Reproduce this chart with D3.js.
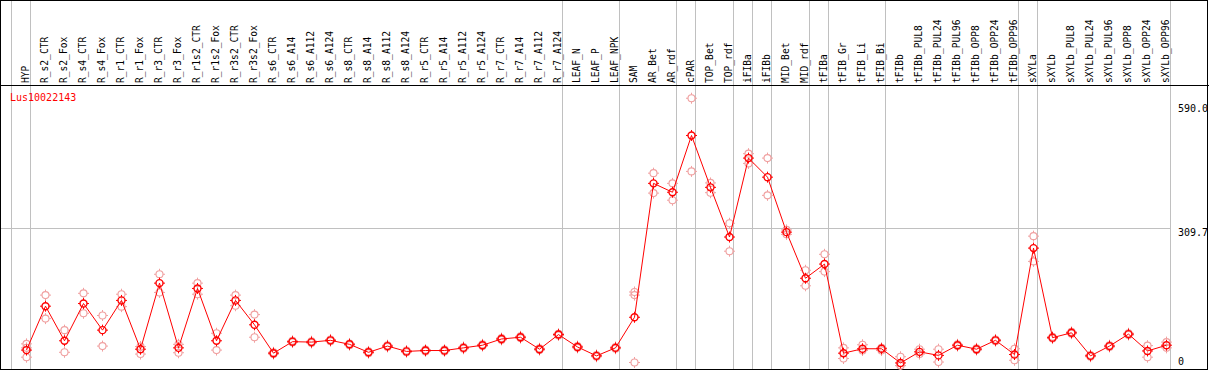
<!DOCTYPE html>
<html>
<head>
<script src="https://cdn.jsdelivr.net/npm/d3@7"></script>
<style>
body {margin: 0; background: #fff;}
text {font-family: "DejaVu Sans Mono", monospace; font-size: 10px;}
text.lab {font-size: 9.6px;}
</style>
</head>
<body>
<svg id="chart" width="1209" height="370"></svg>
<script>
var samples = ["HYP","R_s2_CTR","R_s2_Fox","R_s4_CTR","R_s4_Fox","R_r1_CTR","R_r1_Fox","R_r3_CTR","R_r3_Fox",
  "R_r1s2_CTR","R_r1s2_Fox","R_r3s2_CTR","R_r3s2_Fox","R_s6_CTR","R_s6_A14","R_s6_A112","R_s6_A124",
  "R_s8_CTR","R_s8_A14","R_s8_A112","R_s8_A124","R_r5_CTR","R_r5_A14","R_r5_A112","R_r5_A124",
  "R_r7_CTR","R_r7_A14","R_r7_A112","R_r7_A124","LEAF_N","LEAF_P","LEAF_NPK","SAM","AR_Bet","AR_rdf",
  "cPAR","TOP_Bet","TOP_rdf","iFIBa","iFIBb","MID_Bet","MID_rdf","tFIBa","tFIB_Gr","tFIB_Li","tFIB_Bi",
  "tFIBb","tFIBb_PUL8","tFIBb_PUL24","tFIBb_PUL96","tFIBb_OPP8","tFIBb_OPP24","tFIBb_OPP96",
  "sXYLa","sXYLb","sXYLb_PUL8","sXYLb_PUL24","sXYLb_PUL96","sXYLb_OPP8","sXYLb_OPP24","sXYLb_OPP96"];

// mean expression
var means = [35,134,56,140,80,147,37,186,40,174,56,147,92,28,54,53,57,48,30,44,32,34,34,40,46,60,64,37,70,42,22,40,
  109,411,391,519,402,290,468,425,301,197,229,28,38,38,6,31,23,46,37,57,25,265,63,74,22,44,71,33,46];
// replicates
var rep1 = [49,159,80,163,113,161,43,206,48,186,73,159,115,30,56,55,59,50,32,46,34,36,36,42,48,62,66,39,72,44,24,42,
  166,434,411,603,412,321,478,468,306,215,251,40,47,40,20,37,37,48,39,59,38,292,65,76,24,46,73,45,53];
var rep2 = [19,106,30,118,44,133,26,165,29,161,35,135,64,26,52,51,55,46,28,42,30,32,32,38,44,58,62,35,68,40,20,38,
  7,389,373,438,390,258,456,384,296,180,212,16,34,34,0,26,8,44,35,55,12,235,61,72,20,42,69,19,40];
var rep3 = [40,null,null,null,null,null,null,null,null,null,null,null,null,null,null,null,null,null,null,null,null,null,null,null,null,null,null,null,null,null,null,null,
  159,null,null,null,null,null,null,null,null,null,null,null,null,null,0,null,null,null,null,null,null,null,null,null,null,null,null,null,null];

var groupStarts = ["HYP","R_s2_CTR","LEAF_N","SAM","cPAR","TOP_Bet","iFIBa","iFIBb","MID_Bet","tFIBa","tFIB_Gr","tFIBb","sXYLa","sXYLb"];
var tickValues = [590.0, 309.7, 0];
var geneName = "Lus10022143";

var W = 1209, H = 370;
var svg = d3.select("#chart");

var x = d3.scaleBand().domain(samples).range([11, 1170]);
var y = d3.scaleLinear().domain([0, 590]).range([365.6, 104]);
var px = function(d){ return x(d) + 15.5; };

// grid
svg.append("line").attr("x1", 0).attr("x2", x.range()[1]).attr("y1", Math.round(y(309.7)) + 0.5).attr("y2", Math.round(y(309.7)) + 0.5)
  .attr("stroke", "#c0c0c0").attr("shape-rendering", "crispEdges");
svg.selectAll("line.sep").data(groupStarts.map(x).concat([x.range()[1]]))
  .enter().append("line").attr("class", "sep")
  .attr("x1", function(d){ return Math.round(d) + 0.5; }).attr("x2", function(d){ return Math.round(d) + 0.5; })
  .attr("y1", 0).attr("y2", H)
  .attr("stroke", "#c0c0c0").attr("shape-rendering", "crispEdges");

// frame
svg.append("rect").attr("x", 0.5).attr("y", 0.5).attr("width", W - 2).attr("height", H - 1.5)
  .attr("fill", "none").attr("stroke", "#000").attr("shape-rendering", "crispEdges");
svg.append("line").attr("x1", 0).attr("x2", W).attr("y1", 85.5).attr("y2", 85.5)
  .attr("stroke", "#000").attr("shape-rendering", "crispEdges");

// sample labels
svg.selectAll("text.lab").data(samples).enter().append("text").attr("class", "lab")
  .attr("transform", function(d){ return "translate(" + (px(d) + 2) + ",83) rotate(-90)"; })
  .text(function(d){ return d; });

// value labels on right
svg.selectAll("text.tick").data(tickValues).enter().append("text").attr("class", "tick")
  .attr("x", 1178)
  .attr("y", function(d){ return d === 0 ? y(d) - 1 : y(d) + 8; })
  .text(function(d){ return d === 0 ? "0" : d.toFixed(1); });

svg.append("text").attr("x", 10).attr("y", 101).attr("fill", "#ff0000").text(geneName);

function marker(g, color, sw){
  g.append("circle").attr("r", 3.5).attr("fill", "none").attr("stroke", color).attr("stroke-width", sw);
  g.append("path").attr("d", "M-5.5,0H-3.5M3.5,0H5.5M0,-5.5V-3.5M0,3.5V5.5")
    .attr("stroke", color).attr("stroke-width", 1);
}

// replicate points
[rep1, rep2, rep3].forEach(function(rep){
  svg.append("g").selectAll("g").data(samples.filter(function(d, i){ return rep[i] !== null; }))
    .enter().append("g")
    .attr("transform", function(d){ return "translate(" + px(d) + "," + y(rep[samples.indexOf(d)]) + ")"; })
    .each(function(){ marker(d3.select(this), "#f0a0a0", 1.1); });
});

// mean line
var line = d3.line().x(function(d, i){ return px(samples[i]); }).y(function(d){ return y(d); });
svg.append("path").datum(means).attr("d", line).attr("fill", "none").attr("stroke", "#ff0000").attr("stroke-width", 1);

svg.append("g").selectAll("g").data(means).enter().append("g")
  .attr("transform", function(d, i){ return "translate(" + px(samples[i]) + "," + y(d) + ")"; })
  .each(function(){ marker(d3.select(this), "#ff0000", 1.4); });
</script>
</body>
</html>
